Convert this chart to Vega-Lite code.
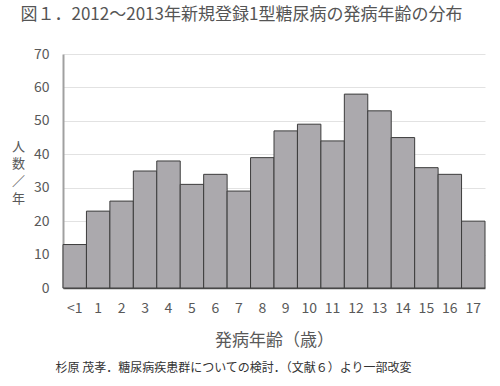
{
  "$schema": "https://vega.github.io/schema/vega-lite/v6.json",
  "padding": {"left": 11, "top": 6, "right": 12, "bottom": 5},
  "background": "white",
  "config": {"font": "Noto Sans CJK JP", "view": {"stroke": null}, "concat": {"spacing": 0}},
  "title": {"text": "杉原 茂孝．糖尿病疾患群についての検討．（文献６）より一部改変", "orient": "bottom", "anchor": "start", "fontSize": 12, "fontWeight": "normal", "color": "#333333", "dx": 44, "offset": 15},
  "vconcat": [
    {
      "width": 422,
      "height": 234,
      "title": {"text": "図１．2012～2013年新規登録1型糖尿病の発病年齢の分布", "anchor": "start", "fontSize": 17, "fontWeight": "normal", "color": "#555555", "offset": 23, "dx": 9},
      "data": {"values": [
        {"age": "<1", "count": 13},
        {"age": "1", "count": 23},
        {"age": "2", "count": 26},
        {"age": "3", "count": 35},
        {"age": "4", "count": 38},
        {"age": "5", "count": 31},
        {"age": "6", "count": 34},
        {"age": "7", "count": 29},
        {"age": "8", "count": 39},
        {"age": "9", "count": 47},
        {"age": "10", "count": 49},
        {"age": "11", "count": 44},
        {"age": "12", "count": 58},
        {"age": "13", "count": 53},
        {"age": "14", "count": 45},
        {"age": "15", "count": 36},
        {"age": "16", "count": 34},
        {"age": "17", "count": 20}
      ]},
      "mark": {"type": "bar", "fill": "#aba9ad", "stroke": "#3c3c3c", "strokeWidth": 1},
      "encoding": {
        "x": {
          "field": "age", "type": "ordinal", "sort": null,
          "scale": {"paddingInner": 0, "paddingOuter": 0},
          "axis": {"labelAngle": 0, "ticks": false, "domainColor": "#555555", "domainWidth": 1.5, "labelFontSize": 14, "labelColor": "#595959", "labelPadding": 13, "title": "発病年齢（歳）", "titleFontSize": 17, "titleFontWeight": "normal", "titleColor": "#595959", "titlePadding": 17}
        },
        "y": {
          "field": "count", "type": "quantitative",
          "scale": {"domain": [0, 70]},
          "axis": {"values": [0, 10, 20, 30, 40, 50, 60, 70], "ticks": false, "domainColor": "#a0a0a0", "domainWidth": 2, "gridColor": "#e2e2e2", "labelFontSize": 14, "labelColor": "#595959", "labelPadding": 14,
            "title": ["人", "数", "／", "年"], "titleAngle": 0, "titleFontSize": 13, "titleFontWeight": "normal", "titleColor": "#595959", "titleLineHeight": 17.5, "titleAlign": "center", "titleBaseline": "top", "titleX": -45, "titleY": 86}
        }
      }
    }
  ]
}
